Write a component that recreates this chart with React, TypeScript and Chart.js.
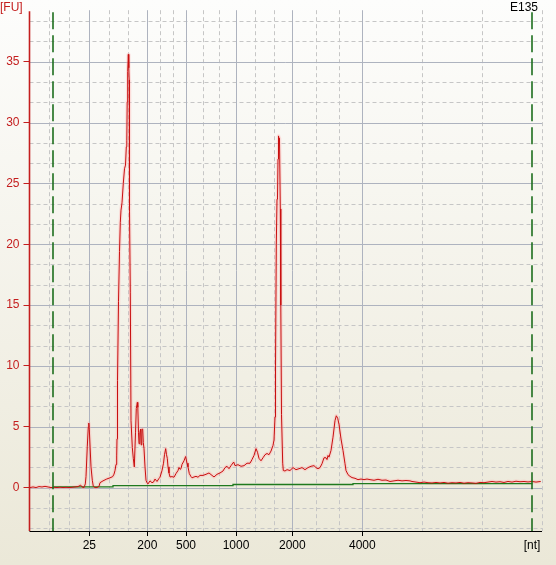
import React, { useEffect, useRef } from "react";
import { Chart, registerables } from "chart.js";

Chart.register(...registerables);

// Migration time axis (s); ladder calibration of sizes in nt
const ladderTimes = [22.93, 28.73, 32.6, 37.6, 43.23, 50.23];
const ladderLabels = ["25", "200", "500", "1000", "2000", "4000"];
const markerTimes = [19.33, 67.23];
const yTickValues = [0, 5, 10, 15, 20, 25, 30, 35];
const sampleName = "E135";

const traceTime = [
  17.0, 17.3, 17.6, 17.9, 18.2, 18.5, 18.8, 19.1, 19.4, 19.7, 20.0, 20.3, 20.6, 20.9, 21.2, 21.5, 21.8,
  22.07, 22.2, 22.4, 22.53, 22.6, 22.73, 22.83, 22.88, 22.93, 23.0, 23.1, 23.23, 23.33, 23.5, 23.7, 23.9,
  24.0, 24.3, 24.67, 25.0, 25.27, 25.4, 25.5, 25.6, 25.67, 25.7, 25.75, 25.85, 25.95, 26.03, 26.1, 26.2,
  26.33, 26.45, 26.55, 26.63, 26.68, 26.72, 26.77, 26.83, 26.88, 26.92, 26.95, 27.03, 27.1, 27.23, 27.33,
  27.43, 27.55, 27.63, 27.73, 27.78, 27.85, 27.9, 27.98, 28.05, 28.12, 28.18, 28.27, 28.33, 28.4, 28.5,
  28.6, 28.7, 28.8, 29.0, 29.2, 29.35, 29.5, 29.7, 29.9, 30.0, 30.2, 30.35, 30.45, 30.57, 30.65, 30.73,
  30.8, 30.9, 31.0, 31.2, 31.4, 31.6, 31.8, 31.9, 32.0, 32.1, 32.2, 32.4, 32.56, 32.7, 32.8, 32.93, 33.1,
  33.2, 33.4, 33.6, 33.8, 34.0, 34.3, 34.6, 34.9, 35.2, 35.4, 35.7, 36.0, 36.3, 36.5, 36.7, 36.9, 37.1,
  37.37, 37.5, 37.8, 38.1, 38.4, 38.7, 39.0, 39.2, 39.4, 39.6, 39.75, 39.9, 40.1, 40.3, 40.5, 40.7, 40.9,
  41.1, 41.3, 41.4, 41.5, 41.55, 41.63, 41.7, 41.75, 41.8, 41.85, 41.9, 41.95, 42.03, 42.08, 42.15, 42.27,
  42.33, 42.5, 42.7, 43.0, 43.3, 43.6, 43.9, 44.2, 44.5, 44.8, 45.1, 45.4, 45.6, 45.8, 46.0, 46.2, 46.4,
  46.6, 46.7, 46.8, 46.9, 47.1, 47.3, 47.5, 47.63, 47.77, 47.9, 48.1, 48.3, 48.5, 48.6, 48.8, 49.0, 49.2,
  49.5, 49.8, 50.1, 50.4, 50.7, 51.0, 51.4, 51.8, 52.2, 52.6, 53.0, 53.4, 53.8, 54.2, 54.6, 55.0, 55.2,
  55.6, 56.0, 56.4, 56.8, 57.2, 57.6, 58.0, 58.4, 58.8, 59.2, 59.6, 60.0, 60.4, 60.8, 61.2, 61.6, 62.0,
  62.4, 62.8, 63.2, 63.6, 64.0, 64.4, 64.8, 65.2, 65.6, 66.0, 66.4, 66.8, 67.2, 67.6, 68.07,
];

const traceFU = [
  0.0, 0.05, 0.0, 0.08, 0.05, 0.1, 0.05, 0.0, 0.02, 0.0, 0.03, 0.0, 0.02, 0.0, 0.02, 0.05, 0.08,
  0.2, 0.05, 0.0, 0.3, 0.9, 3.4, 5.0, 5.3, 4.8, 3.5, 1.7, 0.6, 0.1, 0.0, 0.0, 0.1,
  0.4, 0.55, 0.7, 0.8, 0.9, 1.1, 1.4, 1.9, 2.6, 4.0, 8.8, 15.3, 19.4, 21.8, 22.8, 23.4,
  25.0, 26.2, 26.5, 28.0, 28.5, 31.7, 34.2, 35.6, 34.5, 33.5, 22.7, 16.0, 5.5, 3.3, 2.4,
  1.7, 4.5, 6.5, 7.0, 6.6, 4.5, 3.6, 4.5, 4.8, 3.5, 4.8, 4.8, 3.7, 3.2, 1.7,
  0.6, 0.4, 0.3, 0.55, 0.4, 0.45, 0.7, 0.5, 0.75, 0.85, 1.4, 2.0, 2.7, 3.2, 2.7, 2.4,
  1.7, 1.2, 0.87, 0.9, 0.85, 1.15, 1.4, 1.65, 1.5, 1.55, 1.9, 2.2, 2.55, 2.0, 1.7, 1.15, 0.9,
  0.8, 0.87, 0.92, 0.85, 1.0, 1.0, 1.09, 1.2, 1.0, 0.87, 1.09, 1.2, 1.36, 1.64, 1.75, 1.55, 1.8,
  2.1, 1.8, 1.88, 1.75, 1.8, 2.0, 2.0, 2.3, 2.64, 3.2, 2.9, 2.4, 2.2, 2.45, 2.7, 2.8, 2.7,
  3.0, 3.46, 3.9, 5.8, 10.0, 20.0, 23.7, 23.8, 27.0, 28.9, 28.7, 28.5, 22.9, 15.0, 6.0, 2.0,
  1.4, 1.36, 1.47, 1.4, 1.64, 1.47, 1.55, 1.64, 1.47, 1.64, 1.75, 1.8, 1.64, 1.55, 1.64, 1.96, 2.45,
  2.45, 2.3, 2.64, 2.5, 3.05, 4.14, 5.5, 5.9, 5.7, 5.2, 4.0, 3.05, 1.96, 1.4, 1.06, 0.92, 0.82,
  0.76, 0.65, 0.7, 0.65, 0.7, 0.65, 0.6, 0.68, 0.6, 0.62, 0.5, 0.55, 0.6, 0.55, 0.58, 0.55, 0.5,
  0.45, 0.4, 0.45, 0.4, 0.38, 0.42, 0.38, 0.42, 0.36, 0.4, 0.38, 0.42, 0.36, 0.4, 0.38, 0.35, 0.42,
  0.4, 0.45, 0.5, 0.45, 0.48, 0.42, 0.5, 0.45, 0.52, 0.48, 0.5, 0.46, 0.5, 0.45, 0.5,
];

const baselineTime = [19.33, 25.3, 37.3, 49.3, 67.23];
const baselineFU = [0.05, 0.16, 0.25, 0.33, 0.33];

const X_MIN = 16.95;
const X_MAX = 68.2;
const Y_MIN = -3.57;
const Y_MAX = 39.15;

const FAMILY = "'Liberation Sans', Arial, sans-serif";
const FONT = "12px " + FAMILY;

function thirds(bounds: number[]) {
  const out: number[] = [];
  for (let i = 0; i < bounds.length - 1; i++) {
    const a = bounds[i], b = bounds[i + 1];
    out.push(a + (b - a) / 3, a + (2 * (b - a)) / 3);
  }
  return out;
}

const decorPlugin = {
  id: "decor",
  beforeDraw(chart: any) {
    const { ctx, width, height } = chart;
    ctx.save();
    const g = ctx.createLinearGradient(0, 0, 0, height);
    g.addColorStop(0, "#fdfdfc");
    g.addColorStop(1, "#ebe8d8");
    ctx.fillStyle = g;
    ctx.fillRect(0, 0, width, height);
    ctx.restore();
  },
  beforeDatasetsDraw(chart: any) {
    const { ctx, chartArea: a, scales } = chart;
    const xs = scales.x, ys = scales.y;
    ctx.save();
    ctx.lineWidth = 1;
    const yMajors: number[] = [];
    for (let v = -5; v <= 40; v += 5) yMajors.push(v);
    const yMinors = thirds(yMajors).filter((v) => v > Y_MIN && v < Y_MAX);
    ctx.strokeStyle = "#c6c6c6";
    ctx.setLineDash([4, 3]);
    yMinors.forEach((v) => {
      const p = Math.round(ys.getPixelForValue(v)) + 0.5;
      ctx.beginPath(); ctx.moveTo(a.left, p); ctx.lineTo(a.right, p); ctx.stroke();
    });
    const xb = [X_MIN, ...ladderTimes, X_MAX];
    const xMinors = [...thirds(xb), X_MAX];
    xMinors.forEach((v) => {
      const p = Math.round(xs.getPixelForValue(v)) + 0.5;
      ctx.beginPath(); ctx.moveTo(p, a.top - 1); ctx.lineTo(p, a.bottom); ctx.stroke();
    });
    ctx.setLineDash([]);
    ctx.strokeStyle = "#aeb3bf";
    yTickValues.forEach((v) => {
      const p = Math.round(ys.getPixelForValue(v)) + 0.5;
      ctx.beginPath(); ctx.moveTo(a.left, p); ctx.lineTo(a.right, p); ctx.stroke();
    });
    ladderTimes.forEach((v) => {
      const p = Math.round(xs.getPixelForValue(v)) + 0.5;
      ctx.beginPath(); ctx.moveTo(p, a.top - 1); ctx.lineTo(p, a.bottom); ctx.stroke();
    });
    ctx.restore();
  },
  afterDatasetsDraw(chart: any) {
    const { ctx, chartArea: a, scales } = chart;
    const xs = scales.x;
    ctx.save();
    ctx.strokeStyle = "#1d6e1d";
    ctx.lineWidth = 1.6;
    ctx.setLineDash([17, 6]);
    markerTimes.forEach((v) => {
      const p = Math.round(xs.getPixelForValue(v));
      ctx.beginPath(); ctx.moveTo(p, a.top + 1); ctx.lineTo(p, a.bottom); ctx.stroke();
    });
    ctx.setLineDash([]);
    ctx.strokeStyle = "#c41e1e";
    ctx.lineWidth = 1.6;
    ctx.beginPath(); ctx.moveTo(a.left, a.top); ctx.lineTo(a.left, a.bottom); ctx.stroke();
    ctx.strokeStyle = "#000";
    ctx.lineWidth = 1;
    ctx.beginPath(); ctx.moveTo(a.left, Math.round(a.bottom) + 0.5); ctx.lineTo(a.right, Math.round(a.bottom) + 0.5); ctx.stroke();
    ctx.font = FONT;
    ctx.textBaseline = "top";
    ctx.fillStyle = "#c41e1e";
    ctx.textAlign = "left";
    ctx.fillText("[FU]", 0, 2);
    ctx.fillStyle = "#000";
    ctx.textAlign = "right";
    ctx.fillText(sampleName, 538, 2);
    ctx.textAlign = "center";
    ctx.fillText("[nt]", 532, 540);
    ctx.restore();
  },
};

export default function App() {
  const ref = useRef<HTMLCanvasElement | null>(null);
  useEffect(() => {
    if (!ref.current) return;
    const pts = traceTime.map((t, i) => ({ x: t, y: traceFU[i] }));
    const base = baselineTime.map((t, i) => ({ x: t, y: baselineFU[i] }));
    const chart = new Chart(ref.current, {
      type: "line",
      data: {
        datasets: [
          { data: pts, borderColor: "#c80f0f", borderWidth: 1, pointRadius: 0, tension: 0 },
          { data: base, borderColor: "#1f7a1f", borderWidth: 1.3, pointRadius: 0, stepped: "before" },
          {
            data: pts,
            borderColor: "rgba(255,170,170,0.35)",
            borderWidth: 3.5,
            borderJoinStyle: "round",
            pointRadius: 0,
            tension: 0,
          },
        ],
      },
      options: {
        animation: false,
        responsive: false,
        devicePixelRatio: 1,
        layout: { padding: { left: 0, top: 9, right: 14, bottom: 0 } },
        plugins: { legend: { display: false }, tooltip: { enabled: false } },
        scales: {
          x: {
            type: "linear",
            min: X_MIN,
            max: X_MAX,
            afterFit: (s: any) => { s.height = 34; },
            afterBuildTicks: (s: any) => { s.ticks = ladderTimes.map((v) => ({ value: v })); },
            ticks: {
              autoSkip: false,
              maxRotation: 0,
              padding: 2,
              color: "#000",
              font: { family: FAMILY, size: 12 },
              callback: (_v: any, i: number) => ladderLabels[i],
            },
            grid: { drawOnChartArea: false, drawTicks: true, tickLength: 5, color: "#000" },
            border: { display: false },
          },
          y: {
            type: "linear",
            min: Y_MIN,
            max: Y_MAX,
            afterFit: (s: any) => { s.width = 29.5; },
            afterBuildTicks: (s: any) => { s.ticks = yTickValues.map((v) => ({ value: v })); },
            ticks: {
              padding: 4,
              color: "#c41e1e",
              font: { family: FAMILY, size: 12 },
              callback: (v: any) => String(v),
            },
            grid: { drawOnChartArea: false, drawTicks: true, tickLength: 6, color: "#c41e1e" },
            border: { display: false },
          },
        },
      },
      plugins: [decorPlugin],
    });
    return () => chart.destroy();
  }, []);
  return (
    <div style={{ position: "absolute", left: 0, top: 0, width: 556, height: 565 }}>
      <canvas ref={ref} width={556} height={565} style={{ display: "block", width: 556, height: 565 }} />
    </div>
  );
}
